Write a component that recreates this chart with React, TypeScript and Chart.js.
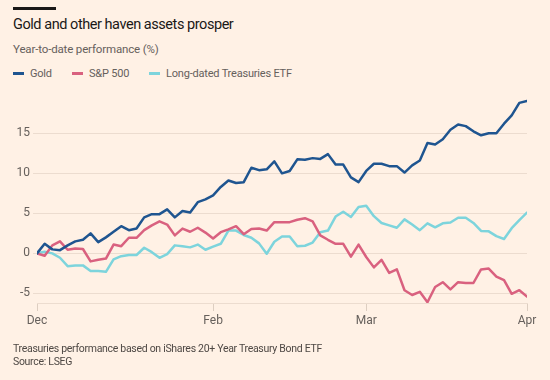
import React, { useEffect, useRef } from "react";
import { Chart, registerables } from "chart.js";
Chart.register(...registerables);

// Trading-day series, year-to-date performance (%)
const gold = [
  0, 1.2, 0.5, 0.4, 1.0, 1.5, 1.7, 2.5, 1.4, 2.0, 2.7, 3.4, 2.9, 3.1, 4.5, 4.9,
  4.9, 5.5, 4.5, 5.3, 5.1, 6.4, 6.75, 7.25, 8.3, 9.1, 8.8, 8.9, 10.7, 10.4, 10.5,
  11.5, 10.0, 10.3, 11.75, 11.7, 11.9, 11.8, 12.4, 11.1, 11.1, 9.5, 8.9, 10.3,
  11.2, 11.2, 10.9, 10.9, 10.1, 11.0, 11.6, 13.8, 13.6, 14.25, 15.45, 16.1, 15.9,
  15.25, 14.75, 15.0, 15.0, 16.2, 17.25, 18.8, 19.05,
];
const sp500 = [
  0, -0.3, 1.0, 1.5, 0.45, 0.6, 0.55, -1.0, -0.8, -0.65, 1.1, 0.9, 1.95, 1.95,
  2.9, 3.5, 4.0, 3.6, 2.25, 3.1, 2.7, 3.2, 2.6, 1.85, 2.65, 3.0, 3.4, 2.4, 3.05,
  3.1, 2.85, 3.9, 3.9, 3.9, 4.2, 4.4, 4.0, 2.25, 1.7, 1.2, 1.2, -0.4, 1.1, -0.45,
  -1.75, -0.8, -2.45, -2.0, -4.6, -5.2, -4.8, -6.1, -4.2, -3.6, -4.5, -3.6, -3.7,
  -3.7, -2.0, -1.9, -2.9, -3.35, -5.05, -4.6, -5.4,
];
const treasuries = [
  0, 0.2, 0, -0.55, -1.6, -1.5, -1.5, -2.2, -2.2, -2.3, -0.75, -0.35, -0.2, -0.2,
  0.7, 0.15, -0.55, -0.1, 1.0, 0.9, 0.75, 1.1, 0.45, 0.85, 1.2, 2.85, 2.85, 2.3,
  1.95, 1.25, -0.05, 1.45, 2.1, 2.1, 0.9, 0.95, 1.35, 2.65, 2.85, 4.6, 5.2, 4.55,
  5.8, 5.95, 4.65, 3.8, 3.5, 3.2, 4.25, 3.6, 2.9, 3.75, 3.25, 3.75, 3.85, 4.45,
  4.45, 3.8, 2.8, 2.75, 2.15, 1.8, 3.15, 4.15, 5.1,
];

const seriesNames = ["Gold", "S&P 500", "Long-dated Treasuries ETF"];
const seriesColors = ["#1f5590", "#d9617f", "#7dd4dc"];

// x-axis ticks (trading-day index -> month label)
const xTickPositions = [0, 23, 43, 64];
const xTickLabels = ["Dec", "Feb", "Mar", "Apr"];
const yTicks = [-5, 0, 5, 10, 15];

const FONT = "Roboto, 'Noto Sans', sans-serif";
const BG = "#fff1e5";
const GRID = "#ecdccf";
const MUTED = "#66605c";

export default function App() {
  const canvasRef = useRef<HTMLCanvasElement | null>(null);

  useEffect(() => {
    document.body.style.margin = "0";
    const ctx = canvasRef.current;
    if (!ctx) return;
    const toPts = (arr: number[]) => arr.map((y, i) => ({ x: i, y }));
    const data = [gold, sp500, treasuries];
    const chart = new Chart(ctx, {
      type: "line",
      data: {
        datasets: data.map((d, k) => ({
          label: seriesNames[k],
          data: toPts(d),
          borderColor: seriesColors[k],
          backgroundColor: seriesColors[k],
          borderWidth: 2.5,
          pointRadius: 0,
          tension: 0,
          borderJoinStyle: "round" as const,
          borderCapStyle: "round" as const,
        })),
      },
      options: {
        animation: false,
        responsive: false,
        maintainAspectRatio: false,
        layout: { padding: { top: 93.3, left: 0, right: 23, bottom: 47 } },
        plugins: {
          legend: { display: false },
          tooltip: { enabled: false },
          title: { display: false },
        },
        scales: {
          x: {
            type: "linear",
            min: 0,
            max: 64,
            offset: false,
            afterBuildTicks: (s: any) => {
              s.ticks = xTickPositions.map((v) => ({ value: v }));
            },
            afterFit: (s: any) => {
              s.height = 30;
            },
            ticks: {
              autoSkip: false,
              maxRotation: 0,
              padding: 3,
              color: MUTED,
              font: { family: FONT, size: 12 },
              callback: (v: any) => xTickLabels[xTickPositions.indexOf(Number(v))] ?? "",
            },
            grid: {
              display: true,
              drawOnChartArea: false,
              drawTicks: true,
              tickLength: 8,
              color: "#ddcec1",
            },
            border: { display: true, color: GRID, width: 1 },
          },
          y: {
            type: "linear",
            min: -6.2,
            max: 20,
            afterBuildTicks: (s: any) => {
              s.ticks = yTicks.map((v) => ({ value: v }));
            },
            afterFit: (s: any) => {
              s.width = 37;
            },
            ticks: {
              padding: 3,
              color: MUTED,
              font: { family: FONT, size: 12 },
            },
            grid: {
              color: GRID,
              drawTicks: true,
              tickLength: 4,
            },
            border: { display: false },
          },
        },
      },
    });
    return () => chart.destroy();
  }, []);

  const legendItem = (k: number, left: number) => (
    <div
      key={k}
      style={{
        position: "absolute",
        left,
        top: 66,
        height: 14,
        display: "flex",
        alignItems: "center",
        fontSize: 11,
        letterSpacing: -0.2,
        color: MUTED,
        whiteSpace: "nowrap",
      }}
    >
      <span
        style={{
          display: "inline-block",
          width: 11,
          height: 3,
          background: seriesColors[k],
          marginRight: 6,
        }}
      />
      {seriesNames[k]}
    </div>
  );

  return (
    <div
      style={{
        position: "absolute",
        left: 0,
        top: 0,
        width: 550,
        height: 380,
        background: BG,
        fontFamily: FONT,
        overflow: "hidden",
      }}
    >
      <div style={{ position: "absolute", left: 13, top: 7, width: 43, height: 3, background: "#1a1817" }} />
      <div
        style={{
          position: "absolute",
          left: 13,
          top: 16,
          fontSize: 14.5,
          letterSpacing: -0.45,
          color: "#1a1817",
          whiteSpace: "nowrap",
        }}
      >
        Gold and other haven assets prosper
      </div>
      <div
        style={{
          position: "absolute",
          left: 13,
          top: 42,
          fontSize: 11.5,
          letterSpacing: -0.15,
          color: MUTED,
          whiteSpace: "nowrap",
        }}
      >
        Year-to-date performance (%)
      </div>
      {legendItem(0, 13)}
      {legendItem(1, 72)}
      {legendItem(2, 149)}
      <canvas
        ref={canvasRef}
        width={550}
        height={380}
        style={{ position: "absolute", left: 0, top: 0, width: 550, height: 380 }}
      />
      <div
        style={{
          position: "absolute",
          left: 13,
          top: 342,
          fontSize: 10.5,
          letterSpacing: -0.3,
          lineHeight: "13px",
          color: "#4e4844",
          whiteSpace: "nowrap",
        }}
      >
        Treasuries performance based on iShares 20+ Year Treasury Bond ETF
        <br />
        Source: LSEG
      </div>
    </div>
  );
}
